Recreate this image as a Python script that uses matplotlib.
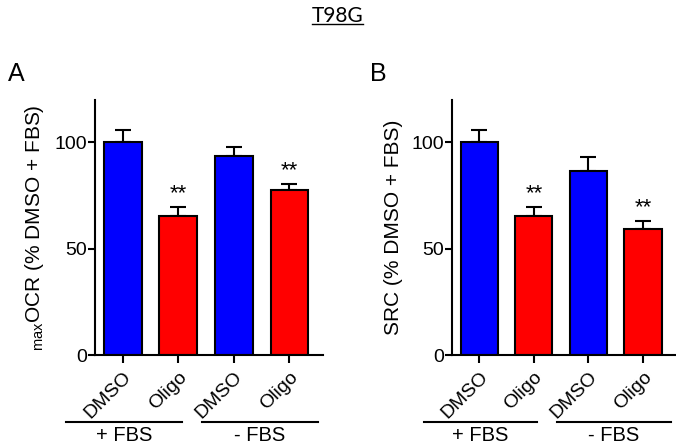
import matplotlib
matplotlib.use("Agg")
import matplotlib.pyplot as plt

plt.rcParams['font.family'] = ['Liberation Sans', 'DejaVu Sans']
plt.rcParams['mathtext.fontset'] = 'custom'
plt.rcParams['mathtext.rm'] = 'Liberation Sans'

# data
treatments = ["DMSO", "Oligo", "DMSO", "Oligo"]
groups = ["+ FBS", "- FBS"]
bar_colors = ["#0000ff", "#ff0000", "#0000ff", "#ff0000"]

ocr_mean = [100, 65.6, 93.8, 77.7]
ocr_err = [6.0, 4.2, 4.2, 3.0]
ocr_sig = ["", "**", "", "**"]

src_mean = [100, 65.6, 86.7, 59.4]
src_err = [6.0, 4.2, 6.3, 3.8]
src_sig = ["", "**", "", "**"]

fig = plt.figure(figsize=(6.76, 4.47), dpi=100)

def draw_panel(ax, means, errs, sig, ylabel):
    x = list(range(len(means)))
    ax.bar(x, means, width=0.68, color=bar_colors, edgecolor="black", linewidth=1.5, zorder=2)
    ax.errorbar(x, means, yerr=[[0]*len(errs), errs], fmt="none", ecolor="black",
                elinewidth=1.5, capsize=6, capthick=1.5, zorder=1)
    for xi, m, e, s in zip(x, means, errs, sig):
        if s:
            ax.text(xi, m + e + 1, s, ha="center", va="bottom", fontsize=16)
    ax.set_xlim(-0.5, 3.6)
    ax.set_ylim(0, 120)
    ax.set_yticks([0, 50, 100])
    ax.set_xticks(x)
    ax.set_xticklabels(treatments, rotation=45, ha="right", rotation_mode="anchor", fontsize=14)
    ax.tick_params(axis="y", labelsize=14, width=1.5, length=5, pad=1)
    ax.tick_params(axis="x", width=1.5, length=6, pad=4)
    for side in ["top", "right"]:
        ax.spines[side].set_visible(False)
    for side in ["left", "bottom"]:
        ax.spines[side].set_linewidth(1.5)
    ax.set_ylabel(ylabel, fontsize=15, labelpad=6)
    # group bars under the tick labels
    tr = ax.get_xaxis_transform()
    spans = [(-1.02, 1.06), (1.42, 3.52)]
    for (a, b), g in zip(spans, groups):
        ax.plot([a, b], [-0.262, -0.262], color="black", lw=1.5, transform=tr, clip_on=False)
        ax.text((a + b) / 2, -0.277, g, ha="center", va="top", fontsize=14.5, transform=tr)

axA = fig.add_axes([0.1405, 0.2058, 0.337, 0.5705])
draw_panel(axA, ocr_mean, ocr_err, ocr_sig, r"$_{\mathrm{max}}$OCR (% DMSO + FBS)")

axB = fig.add_axes([0.6686, 0.2058, 0.331, 0.5705])
draw_panel(axB, src_mean, src_err, src_sig, "SRC (% DMSO + FBS)")

fig.text(0.012, 0.835, "A", fontsize=18, ha="left", va="center")
fig.text(0.547, 0.835, "B", fontsize=18, ha="left", va="center")

fig.text(0.5, 0.965, "T98G", fontsize=15, ha="center", va="center", family=["Lato", "DejaVu Sans"])
fig.lines.append(plt.Line2D([0.462, 0.537], [0.946, 0.946], color="black", lw=1.0,
                            transform=fig.transFigure))

fig.savefig("out.png", dpi=100)
